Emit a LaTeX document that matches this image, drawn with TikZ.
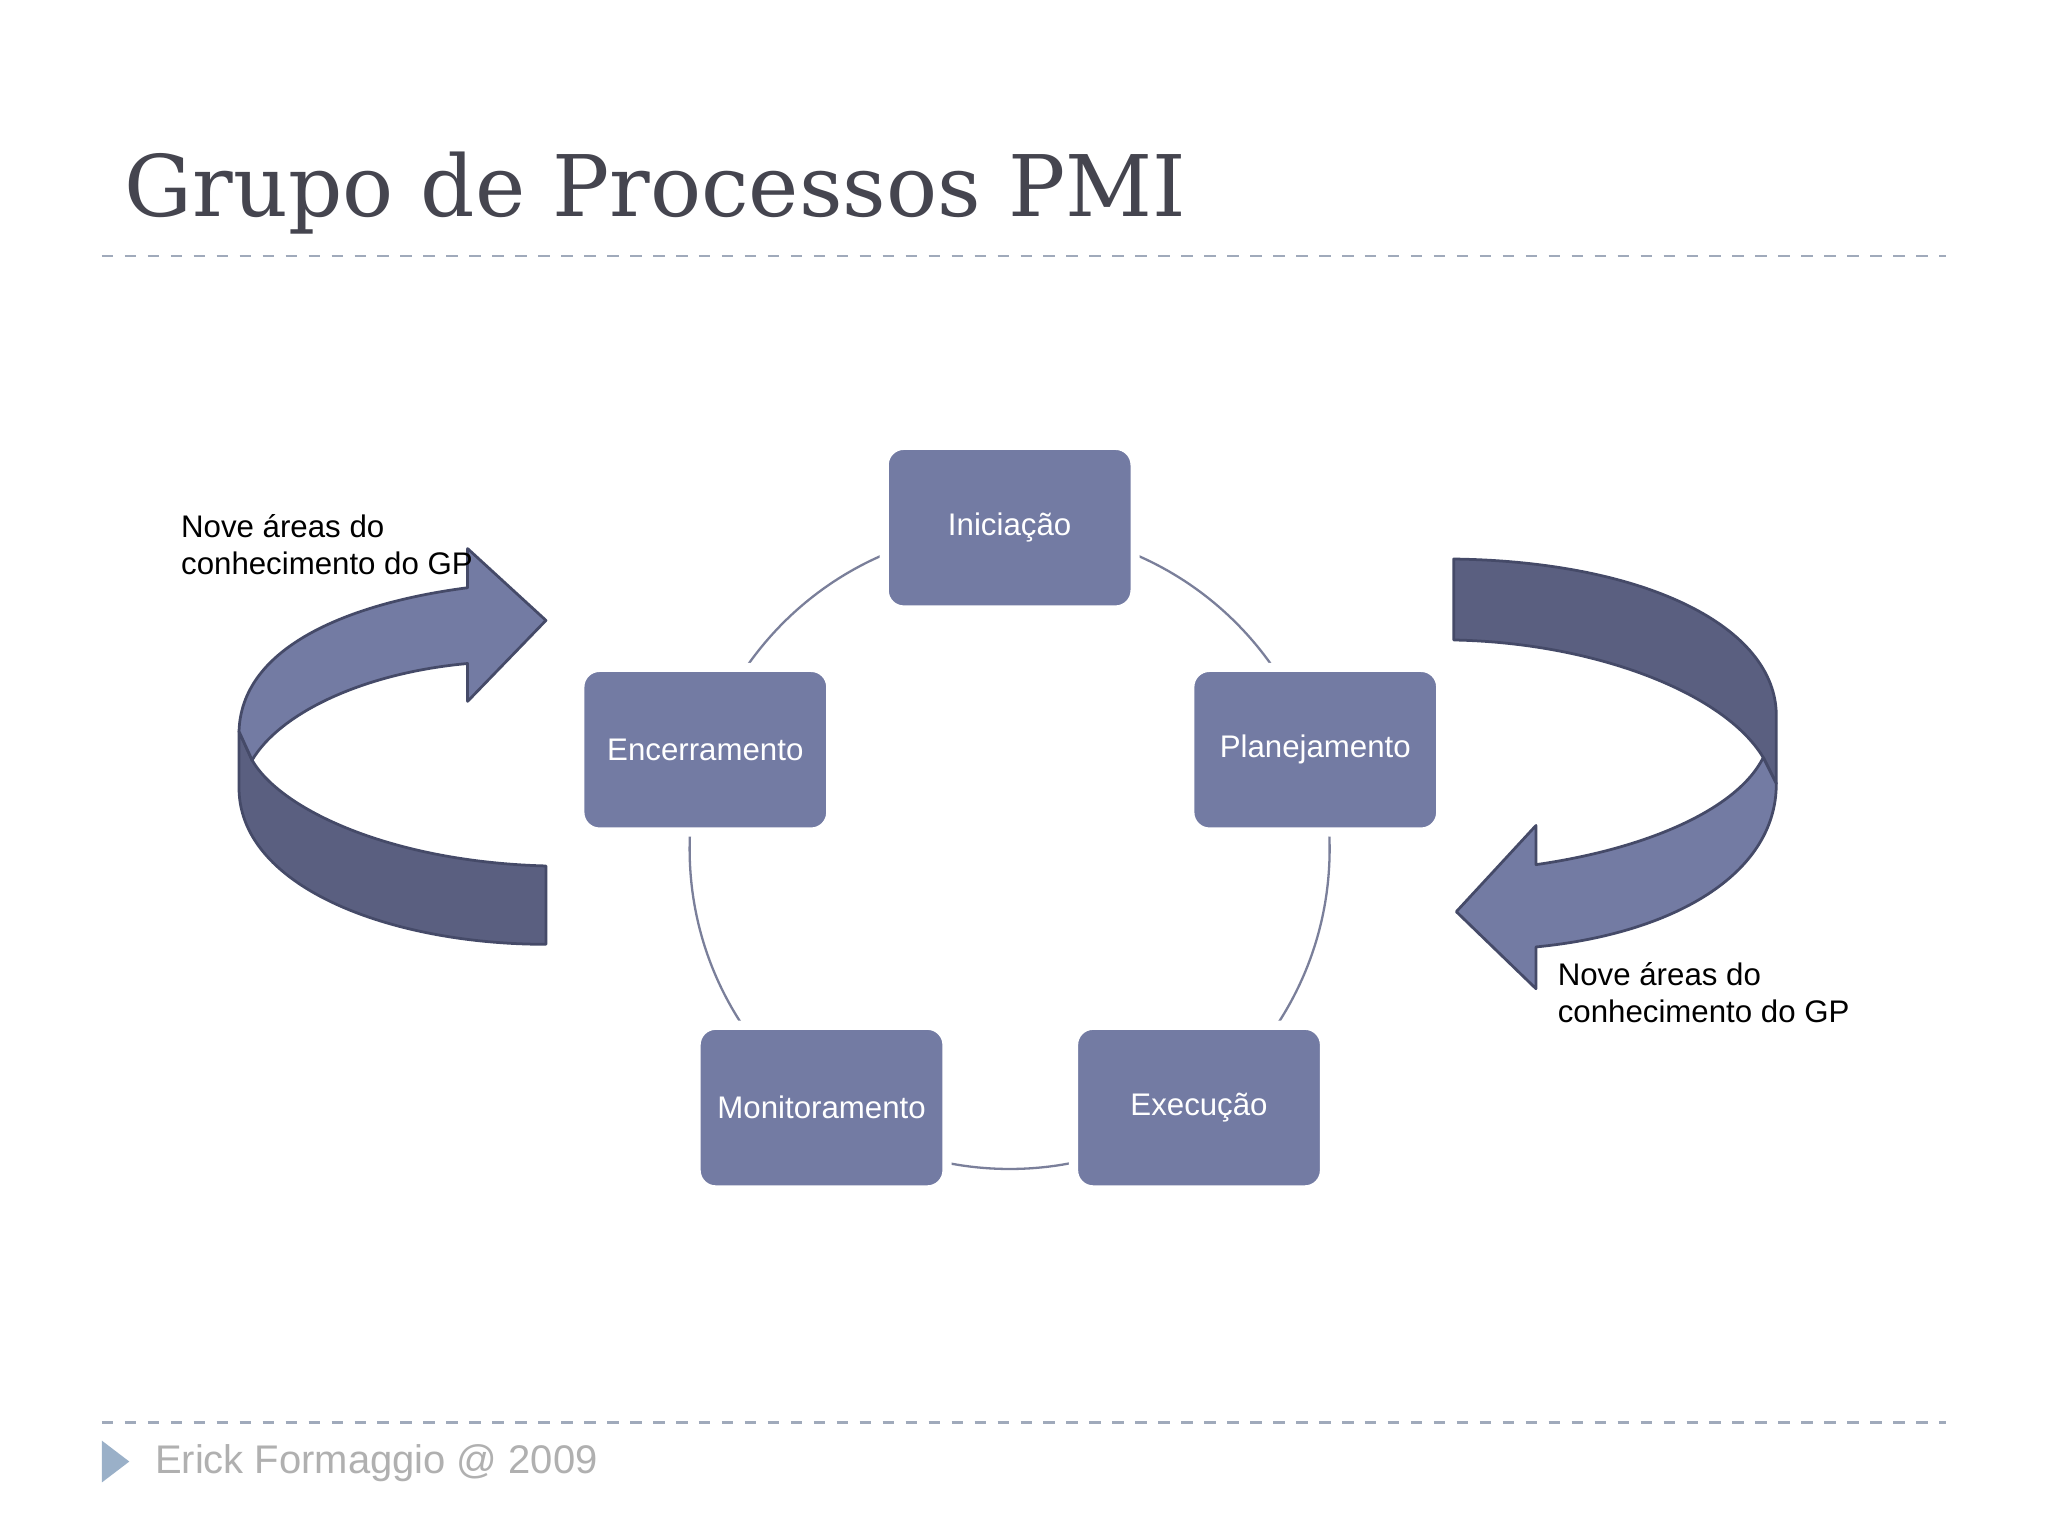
\documentclass[tikz,border=0pt]{standalone}
\usepackage{fontspec}
\setmainfont{DejaVu Serif}
\setsansfont{Liberation Sans}
\definecolor{boxc}{HTML}{737BA3}
\definecolor{darkc}{HTML}{5A5F80}
\definecolor{edgec}{HTML}{454A68}
\definecolor{dashc}{HTML}{A0AABB}
\definecolor{titlec}{HTML}{45454F}
\definecolor{ringc}{HTML}{7A7F9A}
\definecolor{tric}{HTML}{9AB0C8}
\definecolor{footc}{HTML}{B0B0B0}
\begin{document}
\begin{tikzpicture}[x=0.01cm,y=-0.01cm,
  proc/.style={draw=white,line width=2pt,fill=boxc,rounded corners=0.15cm,minimum width=1.92cm,minimum height=1.26cm,text=white,font=\sffamily\fontsize{6.8}{8}\selectfont,inner sep=0pt},
  lbl/.style={anchor=west,align=left,font=\sffamily\fontsize{6.8}{8}\selectfont,inner sep=0pt},
  dline/.style={dashc,line width=0.5pt,dash pattern=on 2.5pt off 2.5pt},
  arr/.style={draw=edgec,line width=0.6pt,line join=round}]
\useasboundingbox (0,0) rectangle (1568,1176);
\fill[white] (0,0) rectangle (1568,1176);
\node[anchor=west,inner sep=0pt,text=titlec,font=\fontsize{18.5}{22}\selectfont] (title) at (95,148) {Grupo de Processos PMI};
\coordinate (d1a) at (78,196); \coordinate (d1b) at (1490,196);
\coordinate (d2a) at (78,1089); \coordinate (d2b) at (1490,1089);
\draw[dline] (d1a) -- (d1b);
\draw[dline] (d2a) -- (d2b);
\fill[tric] (78,1103) -- (78,1135) -- (99,1119) -- cycle;
\node[lbl,text=footc,font=\sffamily\fontsize{8.7}{11}\selectfont] (foot) at (118,1120) {Erick Formaggio @ 2009};
% ring
\coordinate (cc) at (773,650);
\draw[ringc,line width=0.5pt] (cc) circle (245);
% boxes
\node[proc] (ini) at (773,404) {Iniciação};
\node[proc] (pla) at (1007,574) {Planejamento};
\node[proc] (enc) at (540,574) {Encerramento};
\node[proc] (mon) at (629,848) {Monitoramento};
\node[proc] (exe) at (918,848) {Execução};
% left arrow
\draw[arr,fill=darkc] (418,663) .. controls (300,660) and (215,620) .. (193,582) -- (183,560) -- (183,605) .. controls (185,680) and (300,723) .. (418,723) -- cycle;
\draw[arr,fill=boxc] (183,560) .. controls (185,490) and (280,460) .. (358,450) -- (358,420) -- (418,475) -- (358,537) -- (358,508) .. controls (280,515) and (215,545) .. (193,582) -- cycle;
% right arrow
\draw[arr,fill=darkc] (1113,428) .. controls (1260,430) and (1360,480) .. (1360,548) -- (1360,600) -- (1350,580) .. controls (1320,530) and (1220,492) .. (1113,490) -- cycle;
\draw[arr,fill=boxc] (1350,580) .. controls (1330,620) and (1260,650) .. (1176,662) -- (1176,632) -- (1115,698) -- (1176,757) -- (1176,725) .. controls (1280,715) and (1360,670) .. (1360,600) -- cycle;
\node[lbl] (l1) at (138,417) {Nove áreas do\\conhecimento do GP};
\node[lbl] (l2) at (1192,760) {Nove áreas do\\conhecimento do GP};
\end{tikzpicture}
\end{document}
